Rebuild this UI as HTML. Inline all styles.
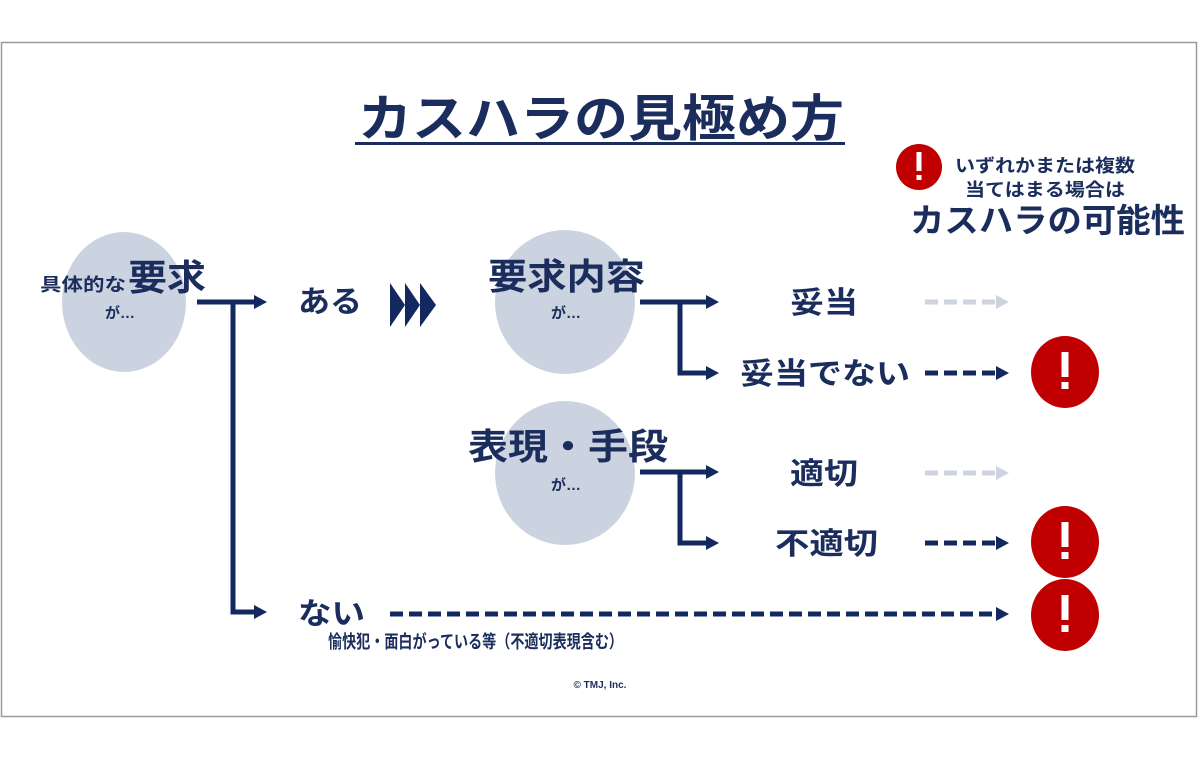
<!DOCTYPE html>
<html><head><meta charset="utf-8"><style>
html,body{margin:0;padding:0;background:#fff;}
svg{display:block}
text{font-family:"Liberation Sans","Noto Sans CJK JP",sans-serif;fill:#1b2d5c;font-weight:bold}
</style></head><body>
<svg width="1200" height="760" viewBox="0 0 1200 760" xmlns="http://www.w3.org/2000/svg">
<defs>
<marker id="ad" markerWidth="14" markerHeight="16" refX="4" refY="8" orient="auto" markerUnits="userSpaceOnUse"><path d="M0,1 L13,8 L0,15 Z" fill="#13285e"/></marker>
<marker id="al" markerWidth="14" markerHeight="16" refX="4" refY="8" orient="auto" markerUnits="userSpaceOnUse"><path d="M0,1 L13,8 L0,15 Z" fill="#cdd3df"/></marker>
</defs>
<rect x="1.5" y="42.5" width="1195" height="674" fill="#fff" stroke="#9a9a9a" stroke-width="1.5"/>
<text x="358" y="136" font-size="50" textLength="486" lengthAdjust="spacingAndGlyphs">カスハラの見極め方</text>
<rect x="355" y="142" width="490" height="3" fill="#1b2d5c"/>

<circle cx="919" cy="167" r="23" fill="#c00000"/>
<rect x="916.5" y="152" width="5" height="19" fill="#fff"/><rect x="916.5" y="175" width="5" height="5" fill="#fff"/>
<text x="955" y="172" font-size="18" textLength="180" lengthAdjust="spacingAndGlyphs">いずれかまたは複数</text>
<text x="965" y="196" font-size="18" textLength="160" lengthAdjust="spacingAndGlyphs">当てはまる場合は</text>
<text x="910" y="232" font-size="33" textLength="275" lengthAdjust="spacingAndGlyphs">カスハラの可能性</text>

<ellipse cx="124" cy="302" rx="62" ry="70" fill="#ccd3e0"/>
<text x="40" y="291" font-size="18" textLength="86" lengthAdjust="spacingAndGlyphs">具体的な</text>
<text x="128" y="290" font-size="36" textLength="78" lengthAdjust="spacingAndGlyphs">要求</text>
<text x="120" y="318" font-size="15" text-anchor="middle">が…</text>

<g stroke="#13285e" stroke-width="5" fill="none">
<path d="M197,302 H258" marker-end="url(#ad)"/>
<path d="M233,302 V612 H258" marker-end="url(#ad)"/>
<path d="M640,302 H710" marker-end="url(#ad)"/>
<path d="M680,302 V373 H710" marker-end="url(#ad)"/>
<path d="M640,472 H710" marker-end="url(#ad)"/>
<path d="M680,472 V543 H710" marker-end="url(#ad)"/>
</g>
<text x="298" y="312" font-size="30" textLength="64" lengthAdjust="spacingAndGlyphs">ある</text>
<g fill="#13285e"><path d="M390,283 L405,305 L390,327 Z"/><path d="M405,283 L420,305 L405,327 Z"/><path d="M420,283 L436,305 L420,327 Z"/></g>

<ellipse cx="565" cy="302" rx="70" ry="72" fill="#ccd3e0"/>
<text x="488" y="289" font-size="36" textLength="157" lengthAdjust="spacingAndGlyphs">要求内容</text>
<text x="566" y="318" font-size="15" text-anchor="middle">が…</text>
<ellipse cx="565" cy="473" rx="70" ry="72" fill="#ccd3e0"/>
<text x="468" y="459" font-size="36" textLength="200" lengthAdjust="spacingAndGlyphs">表現・手段</text>
<text x="566" y="490" font-size="15" text-anchor="middle">が…</text>

<text x="790" y="313" font-size="30" textLength="68" lengthAdjust="spacingAndGlyphs">妥当</text>
<text x="740" y="384" font-size="30" textLength="170" lengthAdjust="spacingAndGlyphs">妥当でない</text>
<text x="790" y="484" font-size="30" textLength="68" lengthAdjust="spacingAndGlyphs">適切</text>
<text x="775" y="554" font-size="30" textLength="103" lengthAdjust="spacingAndGlyphs">不適切</text>
<text x="298" y="624" font-size="30" textLength="67" lengthAdjust="spacingAndGlyphs">ない</text>
<text x="328" y="648" font-size="18" textLength="295" lengthAdjust="spacingAndGlyphs">愉快犯・面白がっている等（不適切表現含む）</text>
<text x="600" y="688" font-size="10" text-anchor="middle">© TMJ, Inc.</text>

<g stroke-width="5" fill="none" stroke-dasharray="13,6">
<path d="M925,302 H1000" stroke="#cdd3df" marker-end="url(#al)"/>
<path d="M925,473 H1000" stroke="#cdd3df" marker-end="url(#al)"/>
<path d="M925,373 H1000" stroke="#13285e" marker-end="url(#ad)"/>
<path d="M925,543 H1000" stroke="#13285e" marker-end="url(#ad)"/>
<path d="M390,614 H1000" stroke="#13285e" marker-end="url(#ad)"/>
</g>

<g fill="#c00000"><ellipse cx="1065" cy="372" rx="34" ry="36"/><ellipse cx="1065" cy="542" rx="34" ry="36"/><ellipse cx="1065" cy="615" rx="34" ry="36"/></g>
<g fill="#fff">
<rect x="1061.5" y="352" width="7" height="25"/><rect x="1061.5" y="382" width="7" height="7"/>
<rect x="1061.5" y="522" width="7" height="25"/><rect x="1061.5" y="552" width="7" height="7"/>
<rect x="1061.5" y="595" width="7" height="25"/><rect x="1061.5" y="625" width="7" height="7"/>
</g>
</svg>
</body></html>
